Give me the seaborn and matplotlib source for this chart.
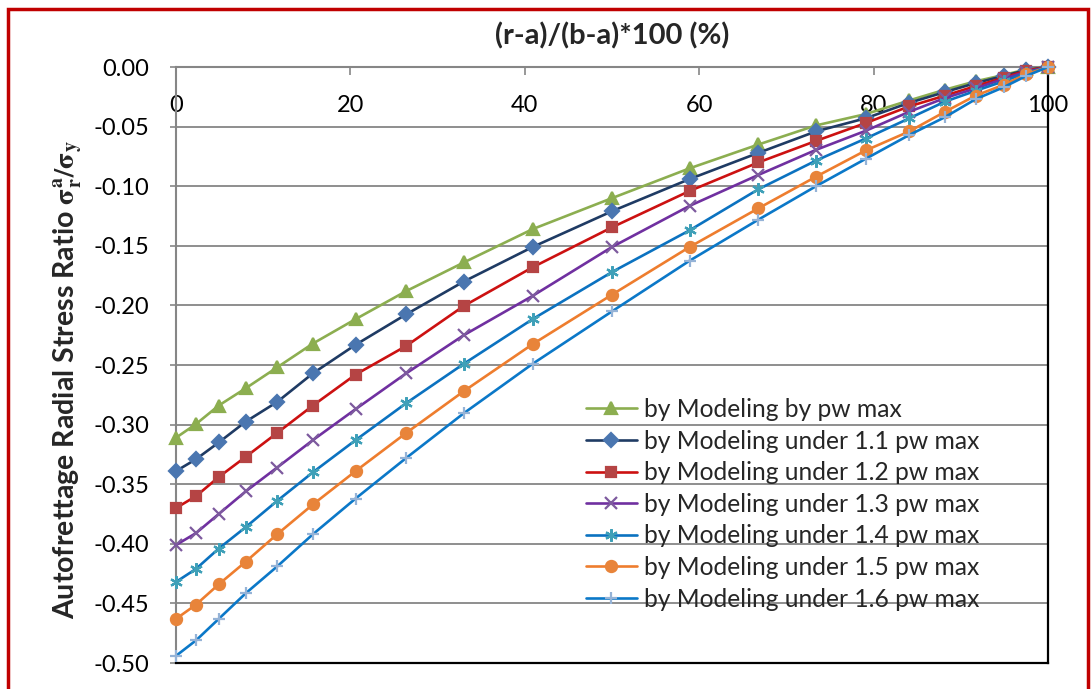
import matplotlib
matplotlib.use("Agg")
import numpy as np
import pandas as pd
import seaborn as sns
import matplotlib.pyplot as plt
from matplotlib.patches import Rectangle
from matplotlib.ticker import FormatStrFormatter

# ---- data ----
x_pct = [0, 2.3, 4.9, 8.0, 11.6, 15.7, 20.6, 26.4, 33.0, 40.9, 50.0,
         58.9, 66.8, 73.4, 79.1, 84.1, 88.2, 91.7, 94.9, 97.5, 100]
pw_10 = [-0.311, -0.2995, -0.284, -0.2695, -0.252, -0.232, -0.2115, -0.188, -0.164, -0.136, -0.110,
         -0.085, -0.065, -0.049, -0.0395, -0.028, -0.019, -0.012, -0.0067, -0.002, 0.0]
pw_11 = [-0.339, -0.329, -0.315, -0.2975, -0.281, -0.257, -0.233, -0.2075, -0.180, -0.151, -0.121,
         -0.094, -0.072, -0.054, -0.043, -0.030, -0.021, -0.0135, -0.0075, -0.0025, 0.0]
pw_12 = [-0.370, -0.360, -0.344, -0.327, -0.307, -0.284, -0.258, -0.234, -0.2005, -0.168, -0.1345,
         -0.104, -0.080, -0.062, -0.047, -0.033, -0.024, -0.016, -0.009, -0.003, 0.0]
pw_13 = [-0.401, -0.391, -0.375, -0.356, -0.336, -0.313, -0.287, -0.257, -0.225, -0.192, -0.151,
         -0.1165, -0.0905, -0.0695, -0.0535, -0.0375, -0.026, -0.018, -0.010, -0.004, 0.0]
pw_14 = [-0.432, -0.421, -0.404, -0.386, -0.364, -0.340, -0.313, -0.282, -0.249, -0.2115, -0.172,
         -0.137, -0.1025, -0.0785, -0.060, -0.043, -0.029, -0.020, -0.012, -0.005, 0.0]
pw_15 = [-0.463, -0.451, -0.434, -0.415, -0.392, -0.367, -0.339, -0.307, -0.272, -0.2325, -0.191,
         -0.151, -0.1185, -0.092, -0.070, -0.054, -0.0375, -0.024, -0.015, -0.006, 0.0]
pw_16 = [-0.494, -0.481, -0.463, -0.4415, -0.419, -0.392, -0.362, -0.328, -0.2905, -0.249, -0.205,
         -0.1625, -0.128, -0.100, -0.077, -0.057, -0.042, -0.027, -0.017, -0.0075, 0.0]

series_labels = ["by Modeling by pw max",
                 "by Modeling under 1.1 pw max",
                 "by Modeling under 1.2 pw max",
                 "by Modeling under 1.3 pw max",
                 "by Modeling under 1.4 pw max",
                 "by Modeling under 1.5 pw max",
                 "by Modeling under 1.6 pw max"]
series_values = [pw_10, pw_11, pw_12, pw_13, pw_14, pw_15, pw_16]
x_ticks = [0, 20, 40, 60, 80, 100]
y_ticks = [-0.50, -0.45, -0.40, -0.35, -0.30, -0.25, -0.20, -0.15, -0.10, -0.05, 0.00]

# ---- styles ----
line_colors = ["#8CAE50", "#1F3B64", "#CC1111", "#7030A0", "#0B72C0", "#EE7D2E", "#0B78C8"]
marker_colors = ["#8CAE50", "#4A76B0", "#B54444", "#7D5A9E", "#3FA0B8", "#E8843A", "#95B3D7"]
markers = ["^", "D", "s", "x", (6, 2, 0), "o", "+"]
msizes = [8.5, 7.5, 7.5, 8, 9, 8, 8.5]

sns.set_theme(style="white")
plt.rcParams["font.family"] = ["Lato", "DejaVu Sans"]
plt.rcParams["mathtext.fontset"] = "stix"

fig = plt.figure(figsize=(10.92, 6.89), dpi=100)
ax = fig.add_axes([176 / 1092, 26 / 689, 872 / 1092, 596 / 689])

for lab, vals, lc, mc, mk, ms in zip(series_labels, series_values, line_colors,
                                      marker_colors, markers, msizes):
    df = pd.DataFrame({"x": x_pct, "y": vals})
    sns.lineplot(data=df, x="x", y="y", ax=ax, color=lc, linewidth=1.9,
                 marker=mk, markersize=ms, markerfacecolor=mc, markeredgecolor=mc,
                 markeredgewidth=1.6, label=lab, clip_on=False, zorder=3)

ax.set_xlim(0, 100)
ax.set_ylim(-0.5, 0.0)
ax.set_xticks(x_ticks)
ax.set_yticks(y_ticks)
ax.yaxis.set_major_formatter(FormatStrFormatter("%.2f"))
ax.xaxis.set_major_formatter(FormatStrFormatter("%d"))

ax.xaxis.tick_top()
ax.xaxis.set_label_position("top")
ax.tick_params(axis="x", top=True, bottom=False, labeltop=True, labelbottom=False,
               direction="in", length=6, width=1.2, color="#868686",
               pad=-35, labelsize=17, labelcolor="black")
ax.tick_params(axis="y", left=True, direction="out", length=4, width=1.2,
               color="#868686", pad=15, labelsize=17, labelcolor="black")

ax.grid(axis="y", color="#868686", linewidth=1.3)
ax.grid(axis="x", visible=False)
ax.set_axisbelow(True)

for side in ["top", "left"]:
    ax.spines[side].set_color("#868686")
    ax.spines[side].set_linewidth(1.5)
for side in ["bottom", "right"]:
    ax.spines[side].set_color("black")
    ax.spines[side].set_linewidth(1.6)

ax.set_xlabel("(r-a)/(b-a)*100 (%)", fontsize=21, fontweight="bold", labelpad=16)
ax.set_ylabel("Autofrettage Radial Stress Ratio $\\mathbf{\\sigma^{a}_{r}/\\sigma_{y}}$",
              fontsize=20.5, fontweight="bold")
ax.yaxis.set_label_coords(-0.106, 0.475)

leg = ax.legend(loc="upper left", bbox_to_anchor=(0.459, 0.461), frameon=False,
                fontsize=17.7, handlelength=2.06, handletextpad=0.29, labelspacing=0.35,
                borderaxespad=0.0)

fig.add_artist(Rectangle((8 / 1092, -0.1), 1080 / 1092, 1.1 - 9 / 689,
                         transform=fig.transFigure, fill=False,
                         edgecolor="#C00000", linewidth=2.5))

fig.savefig("out.png", dpi=100)
